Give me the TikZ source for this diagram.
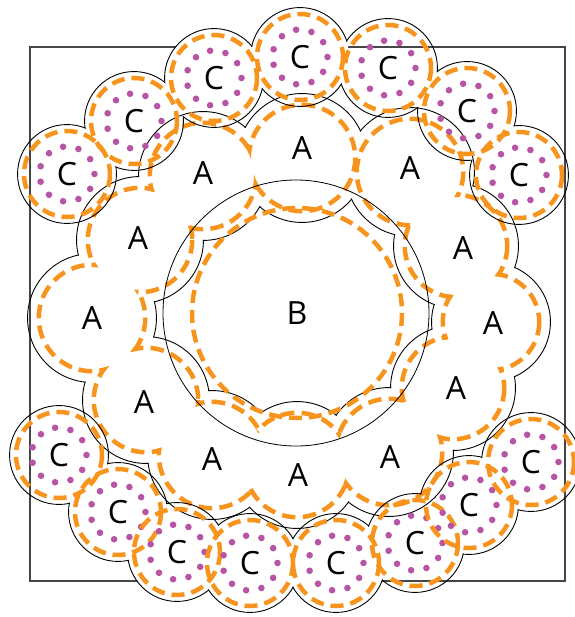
\documentclass[tikz,border=0pt]{standalone}
\usepackage{fontspec}
\newfontfamily\lblfont{Open Sans}

\def\adiscs{302/158/64, 410/172/64, 456/246/62, 491/322/59, 453/388/62, 389/452/64,
    297/465/63, 212/455/64, 146/400/63, 92/318/64, 140/240/63, 203/176/64}
\def\cdiscs{67/174/49, 134/121/49, 214/78/49, 300/57/49, 388/68/49, 467/111/49, 519/175/49,
    59/455/49, 118/512/49, 177/552/49, 250/563/49, 336/563/49, 415/543/49, 469/505/49, 531/462/49}

% clip away the inside of every disc of a list (shrunk by #2)
\makeatletter
\newcommand\cutdiscs[2]{\@for\cc:=#1\do{\expandafter\cutdisc\cc\relax{#2}}}
\def\cutdisc#1/#2/#3\relax#4{\clip (-20,-20) -- (-20,640) -- (600,640) -- (600,-20) -- cycle (#1,#2) circle ({#3-#4});}
\makeatother

\begin{document}
\begin{tikzpicture}[x=1pt, y=-1pt]
            \definecolor{offcolor}{RGB}{247, 148, 30}
            \definecolor{dotcolor}{RGB}{183, 84, 163}
            \definecolor{framecolor}{RGB}{70, 70, 70}
            \tikzset{
                rim/.style={draw=black, line width=1.8pt},
                offrim/.style={draw=offcolor, line width=9pt, dash pattern=on 13pt off 7pt},
                offline/.style={draw=offcolor, line width=4.5pt, dash pattern=on 13pt off 7pt},
                lbl/.style={font=\lblfont\fontsize{32}{32}\selectfont, inner sep=0pt}
            }
            \useasboundingbox (0,0) rectangle (574,617);

            \draw[framecolor, line width=1.3pt] (30,47) rectangle (565,581);
            \foreach \x/\y in {214/78, 300/57, 177/552, 250/563, 336/563} {
                    \fill[white] (\x,\y) circle (49);
                }

            % ring of A discs: outline of the union and its inner offset
            \begin{scope}
                \cutdiscs{\adiscs}{0}
                \foreach \x/\y/\r in \adiscs {
                        \draw[rim] (\x,\y) circle (\r);
                    }
            \end{scope}
            \begin{scope}
                \cutdiscs{\adiscs}{13}
                \foreach \x/\y/\r in \adiscs {
                        \draw[offrim] (\x,\y) circle ({\r-13});
                    }
            \end{scope}

            % B disc
            \draw[black, line width=0.8pt] (296,313) circle (133);
            \draw[offline] (297,313) circle (105);

            % chains of C discs
            \begin{scope}
                \cutdiscs{\cdiscs}{0}
                \foreach \x/\y/\r in \cdiscs {
                        \draw[rim] (\x,\y) circle (\r);
                    }
            \end{scope}
            \foreach \x/\y/\r [count=\i] in \cdiscs {
                    \draw[offline] (\x,\y) circle (43);
                    \foreach \t in {0,...,10} {
                            \fill[dotcolor] (\x,\y) ++({\t*360/11}:27.5) circle (3.3);
                        }
                    \node[lbl] (c\i) at (\x,\y) {C};
                }

            \foreach \x/\y [count=\i] in {302/148, 410/168, 463/248, 493/323, 456/388, 390/457,
                    298/475, 212/459, 144/402, 92/318, 138/238, 203/173} {
                    \node[lbl] (a\i) at (\x,\y) {A};
                }
            \node[lbl] (b) at (297,313) {B};
        \end{tikzpicture}
\end{document}
